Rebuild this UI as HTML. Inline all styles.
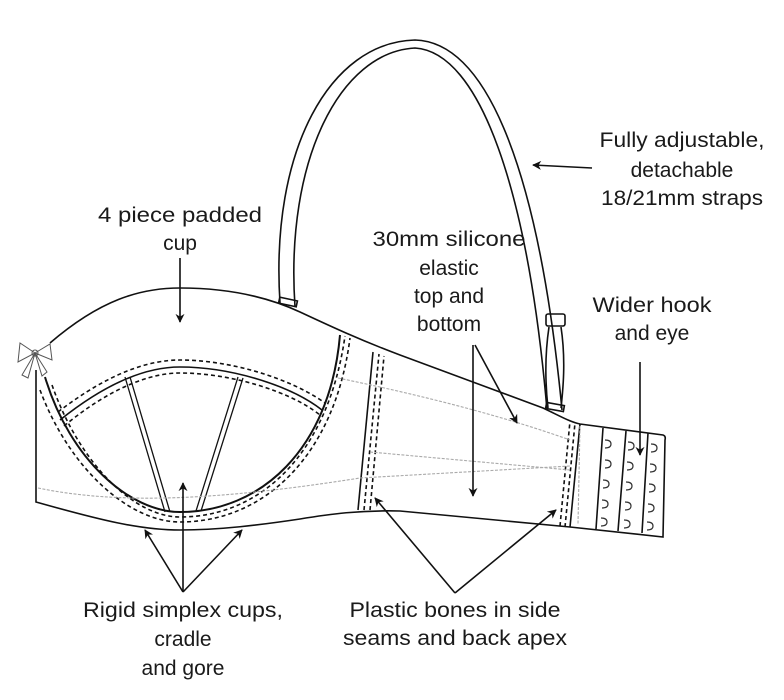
<!DOCTYPE html>
<html><head><meta charset="utf-8"><style>
html,body{margin:0;padding:0;background:#fff;}
svg{display:block;}
text{font-family:"Liberation Sans",sans-serif;font-size:21px;fill:#1a1a1a;}
</style></head><body>
<svg width="784" height="700" viewBox="0 0 784 700" xmlns="http://www.w3.org/2000/svg">
<defs>
<marker id="ah" viewBox="0 0 10 10" refX="9" refY="5" markerWidth="9" markerHeight="9" orient="auto-start-reverse" markerUnits="userSpaceOnUse">
<path d="M0,0 L10,5 L0,10 L3,5 z" fill="#111"/></marker>
</defs>
<g fill="none" stroke="#111" stroke-width="1.6">
<path d="M280,303 C270,150 330,42 415,40 C490,42 540,180 562,410"/>
<path d="M295,307 C285,160 340,52 415,48 C480,52 528,190 547,410"/>
<rect x="279" y="299" width="18" height="6" transform="rotate(12 288 302)"/>
<rect x="546" y="314" width="19" height="12" rx="2"/>
<path d="M549,327 C544,360 546,390 548,408 M561,327 C566,360 563,390 561,408"/>
<rect x="546" y="404" width="18" height="6" transform="rotate(10 555 407)"/>
<path d="M50,343 C100,300 140,288 180,288 C230,288 270,298 300,312 C330,326 360,340 400,355 L543,408 C560,416 570,422 580,424 L663,435 Q666,436 665,440 L663,537 L570,527 L400,511 C360,510 330,514 300,519 C260,525 220,530 180,530 C140,530 100,520 36,502 L36,370"/>
<path d="M45,377 C70,460 130,512 180,512 C260,512 330,450 340,335" stroke-width="2"/>
<path d="M40,390 C70,470 130,522 180,522 C265,522 335,455 350,338" stroke-dasharray="4,3"/>
<path d="M52,385 C80,465 135,517 180,517 C260,517 328,455 345,336" stroke-dasharray="4,3"/>
<path d="M60,420 C110,380 150,367 180,367 C230,367 290,385 322,410"/>
<path d="M58,412 C110,372 150,360 180,360 C230,360 290,378 325,403" stroke-dasharray="4,3"/>
<path d="M64,426 C110,388 150,373 180,373 C230,373 290,391 320,415" stroke-dasharray="4,3"/>
<path d="M125,377 L165,512 M130,377 L170,512" stroke-width="1.3"/>
<path d="M238,377 L196,511 M243,378 L201,511" stroke-width="1.3"/>
<path d="M358,510 L373,352"/>
<path d="M364,510 L379,354 M370,510 L384,356" stroke-dasharray="4,3"/>
<path d="M570,527 L580,424"/>
<path d="M565,527 L575,423 M560,526 L570,421" stroke-dasharray="4,3"/>
<path d="M596,529 L603,428 M618,531 L626,431 M642,533 L648,433"/>
</g>
<g fill="none" stroke="#333" stroke-width="1.2">
<path d="M605,440 q6,0 6,4 q0,4 -6,4 M605,460 q6,0 6,4 q0,4 -6,4 M603,480 q6,0 6,4 q0,4 -6,4 M602,500 q6,0 6,4 q0,4 -6,4 M601,518 q6,0 6,4 q0,4 -6,4"/>
<path d="M628,442 q6,0 6,4 q0,4 -6,4 M627,462 q6,0 6,4 q0,4 -6,4 M626,482 q6,0 6,4 q0,4 -6,4 M625,502 q6,0 6,4 q0,4 -6,4 M624,520 q6,0 6,4 q0,4 -6,4"/>
<path d="M651,444 q6,0 6,4 q0,4 -6,4 M650,464 q6,0 6,4 q0,4 -6,4 M649,484 q6,0 6,4 q0,4 -6,4 M648,504 q6,0 6,4 q0,4 -6,4 M647,522 q6,0 6,4 q0,4 -6,4"/>
</g>
<g fill="none" stroke="#aaa" stroke-width="1.1" stroke-dasharray="3,1.5">
<path d="M38,488 C120,505 220,500 360,478 L570,466"/>
<path d="M338,378 C420,395 500,415 570,440"/>
<path d="M370,452 L570,470"/>
<path d="M580,426 L578,524"/>
</g>
<g fill="none" stroke="#555" stroke-width="1">
<path d="M35,353 L20,343 L18,362 Z M35,353 L50,344 L52,360 Z M35,353 L22,375 L28,378 Z M35,353 L47,372 L42,376 Z"/>
<circle cx="35" cy="353" r="3"/>
</g>
<g stroke="#111" stroke-width="1.6" fill="none" marker-end="url(#ah)">
<path d="M180,258 L180,322"/>
<path d="M592,168 L533,165"/>
<path d="M475,345 L517,423"/>
<path d="M473,345 L473,496"/>
<path d="M640,362 L640,455"/>
<path d="M183,592 L145,530"/>
<path d="M183,592 L183,483"/>
<path d="M183,592 L242,530"/>
<path d="M455,593 L375,498"/>
<path d="M455,593 L556,510"/>
</g>
<g text-anchor="middle">
<text x="180" y="222" textLength="164" lengthAdjust="spacingAndGlyphs">4 piece padded</text>
<text x="180" y="250">cup</text>
<text x="682" y="147" textLength="165" lengthAdjust="spacingAndGlyphs">Fully adjustable,</text>
<text x="682" y="177">detachable</text>
<text x="682" y="205" textLength="162" lengthAdjust="spacingAndGlyphs">18/21mm straps</text>
<text x="449" y="246" textLength="153" lengthAdjust="spacingAndGlyphs">30mm silicone</text>
<text x="449" y="275">elastic</text>
<text x="449" y="303">top and</text>
<text x="449" y="331">bottom</text>
<text x="652" y="312" textLength="119" lengthAdjust="spacingAndGlyphs">Wider hook</text>
<text x="652" y="340">and eye</text>
<text x="183" y="617" textLength="200" lengthAdjust="spacingAndGlyphs">Rigid simplex cups,</text>
<text x="183" y="646">cradle</text>
<text x="183" y="675">and gore</text>
<text x="455" y="617" textLength="211" lengthAdjust="spacingAndGlyphs">Plastic bones in side</text>
<text x="455" y="645" textLength="224" lengthAdjust="spacingAndGlyphs">seams and back apex</text>
</g>
</svg>
</body></html>
